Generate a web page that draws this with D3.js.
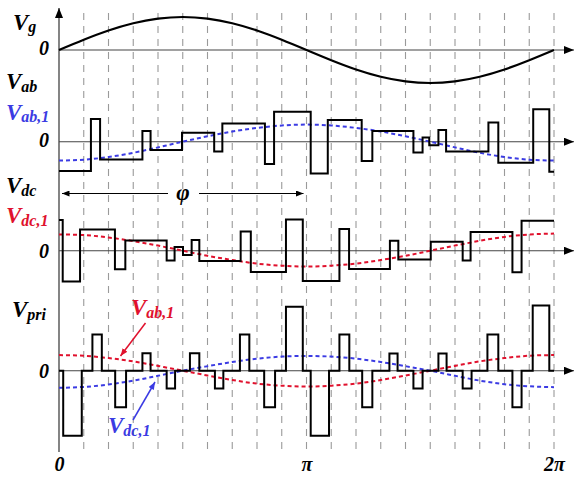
<!DOCTYPE html>
<html>
<head>
<meta charset="utf-8">
<script src="https://cdn.jsdelivr.net/npm/d3@7"></script>
<style>
  body { margin: 0; background: #fff; }
  text { font-family: "Liberation Serif", "Times New Roman", serif; font-weight: bold; font-style: italic; }
</style>
</head>
<body>
<div id="chart"></div>
<script>
// angle in units of pi
var gridSteps = d3.range(1, 21).map(k => k / 10);
var fundAngles = d3.range(0, 21).map(k => k / 10);

// grid voltage (read at each grid line)
var vgValues = [0, 0.31, 0.59, 0.81, 0.95, 1, 0.95, 0.81, 0.59, 0.31, 0,
  -0.31, -0.59, -0.81, -0.95, -1, -0.95, -0.81, -0.59, -0.31, 0];

// Vab step waveform: switching angles and levels between them
var vabEdges = [0, 0.129, 0.166, 0.337, 0.370, 0.497, 0.627, 0.660, 0.832, 0.869, 1.017, 1.086,
  1.223, 1.266, 1.432, 1.469, 1.496, 1.533, 1.564, 1.735, 1.775, 1.916, 1.981, 2];
var vabLevels = [-0.98, 0.76, -0.59, 0.36, -0.28, 0.30, -0.33, 0.61, -0.74, 1.00, -1.06, 0.72,
  -0.64, 0.36, -0.36, 0.14, -0.12, 0.39, -0.33, 0.64, -0.70, 1.08, -1.00];
var vab1Values = [-0.63, -0.60, -0.51, -0.37, -0.19, 0, 0.18, 0.34, 0.46, 0.54, 0.57,
  0.54, 0.46, 0.34, 0.18, 0, -0.19, -0.37, -0.51, -0.60, -0.63];

// Vdc step waveform
var vdcEdges = [0, 0.015, 0.085, 0.226, 0.268, 0.435, 0.467, 0.501, 0.536, 0.567, 0.734, 0.775,
  0.917, 0.985, 1.133, 1.172, 1.337, 1.371, 1.502, 1.631, 1.663, 1.832, 1.869, 2];
var vdcLevels = [1.02, -1.03, 0.71, -0.62, 0.34, -0.33, 0.12, -0.14, 0.36, -0.34, 0.64, -0.71,
  1.04, -1.01, 0.72, -0.61, 0.33, -0.29, 0.30, -0.33, 0.62, -0.72, 1.00];
var vdc1Values = [0.54, 0.52, 0.44, 0.32, 0.17, 0, -0.17, -0.31, -0.43, -0.50, -0.53,
  -0.50, -0.43, -0.31, -0.17, 0, 0.17, 0.33, 0.46, 0.54, 0.57];

// Vpri step waveform
var vpriEdges = [0, 0.017, 0.092, 0.135, 0.173, 0.227, 0.271, 0.337, 0.370, 0.435, 0.469, 0.529,
  0.567, 0.630, 0.664, 0.731, 0.769, 0.829, 0.873, 0.917, 0.985, 1.017, 1.091, 1.133, 1.173,
  1.225, 1.266, 1.335, 1.368, 1.432, 1.469, 1.533, 1.566, 1.631, 1.667, 1.731, 1.775, 1.832,
  1.869, 1.914, 1.981, 2];
var vpriLevels = [0, -2.17, 0, 1.21, 0, -1.22, 0, 0.58, 0, -0.59, 0, 0.58, 0, -0.59, 0, 1.21,
  0, -1.22, 0, 2.13, 0, -2.17, 0, 1.21, 0, -1.22, 0, 0.57, 0, -0.59, 0, 0.57, 0, -0.59, 0,
  1.21, 0, -1.22, 0, 2.17, 0];
var priAb1Values = [0.52, 0.50, 0.42, 0.31, 0.16, 0, -0.16, -0.31, -0.43, -0.50, -0.53,
  -0.50, -0.43, -0.31, -0.16, 0, 0.16, 0.31, 0.42, 0.50, 0.52];
var priDc1Values = [-0.57, -0.54, -0.46, -0.33, -0.17, 0, 0.15, 0.29, 0.40, 0.47, 0.49,
  0.47, 0.40, 0.29, 0.15, 0, -0.17, -0.33, -0.45, -0.52, -0.55];

var xTickLabels = ["0", "\u03c0", "2\u03c0"];

var svgWidth = 574;
var svgHeight = 477;
var red = "#e0112d";
var blue = "#3b3be3";

var svg = d3.select("#chart").append("svg")
  .attr("width", svgWidth)
  .attr("height", svgHeight);

var defs = svg.append("defs");
defs.append("marker")
  .attr("id", "head")
  .attr("viewBox", "0 0 10 8")
  .attr("refX", 10).attr("refY", 4)
  .attr("markerWidth", 10).attr("markerHeight", 8)
  .attr("markerUnits", "userSpaceOnUse")
  .attr("orient", "auto-start-reverse")
  .append("path").attr("d", "M0,0 L10,4 L0,8 Z").attr("fill", "#000");
[["redHead", red], ["blueHead", blue], ["smallHead", "#000"]].forEach(function(m) {
  defs.append("marker")
    .attr("id", m[0])
    .attr("viewBox", "0 0 10 8")
    .attr("refX", 10).attr("refY", 4)
    .attr("markerWidth", 8).attr("markerHeight", 6)
    .attr("markerUnits", "userSpaceOnUse")
    .attr("orient", "auto-start-reverse")
    .append("path").attr("d", "M0,0 L10,4 L0,8 Z").attr("fill", m[1]);
});

var x = d3.scaleLinear().domain([0, 2]).range([59, 554]);

// one y scale per panel, zero line of each panel
var yG = d3.scaleLinear().domain([-1, 1]).range([83, 17]);
var yAb = d3.scaleLinear().domain([-1, 1]).range([171.7, 111.7]);
var yDc = d3.scaleLinear().domain([-1, 1]).range([280.7, 220.7]);
var yPri = d3.scaleLinear().domain([-1, 1]).range([400.7, 340.7]);

// dashed grid
svg.append("g").selectAll("line")
  .data(gridSteps)
  .enter().append("line")
  .attr("x1", d => x(d)).attr("x2", d => x(d))
  .attr("y1", 13).attr("y2", 452)
  .attr("stroke", "#9a9a9a")
  .attr("stroke-width", 1.1)
  .attr("stroke-dasharray", "7,6");

// axes
svg.append("line")
  .attr("x1", x(0)).attr("x2", x(0))
  .attr("y1", 452).attr("y2", 8)
  .attr("stroke", "#333").attr("stroke-width", 1.2)
  .attr("marker-end", "url(#head)");

[yG, yAb, yDc, yPri].forEach(function(y) {
  svg.append("line")
    .attr("x1", x(0)).attr("x2", 574)
    .attr("y1", y(0)).attr("y2", y(0))
    .attr("stroke", "#444").attr("stroke-width", 1.1)
    .attr("marker-end", "url(#head)");
});

// bottom labels
var bottomAxis = d3.axisBottom(x)
  .tickValues([0, 1, 2])
  .tickSize(0)
  .tickFormat((d, i) => xTickLabels[i]);
var bAxis = svg.append("g")
  .attr("transform", "translate(0, 453)")
  .call(bottomAxis);
bAxis.select(".domain").remove();
bAxis.selectAll("text")
  .attr("font-size", 20)
  .attr("font-family", "Liberation Serif, serif")
  .attr("fill", "#000")
  .attr("y", 0)
  .attr("dy", "0.9em");

// waveforms
function stepLine(y) {
  return d3.line()
    .x(d => x(d[0]))
    .y(d => y(d[1]))
    .curve(d3.curveStepAfter);
}
function stepPoints(edges, levels) {
  var pts = levels.map((v, i) => [edges[i], v]);
  pts.push([edges[edges.length - 1], levels[levels.length - 1]]);
  return pts;
}
function smoothLine(y) {
  return d3.line()
    .x(d => x(d[0]))
    .y(d => y(d[1]))
    .curve(d3.curveNatural);
}

svg.append("path")
  .datum(fundAngles.map((a, i) => [a, vgValues[i]]))
  .attr("d", smoothLine(yG))
  .attr("fill", "none").attr("stroke", "#000").attr("stroke-width", 2.2);

function dashed(values, y, color) {
  svg.append("path")
    .datum(fundAngles.map((a, i) => [a, values[i]]))
    .attr("d", smoothLine(y))
    .attr("fill", "none").attr("stroke", color)
    .attr("stroke-width", 2)
    .attr("stroke-dasharray", "4,3");
}
function steps(edges, levels, y) {
  svg.append("path")
    .datum(stepPoints(edges, levels))
    .attr("d", stepLine(y))
    .attr("fill", "none").attr("stroke", "#000").attr("stroke-width", 2);
}

dashed(vab1Values, yAb, blue);
steps(vabEdges, vabLevels, yAb);
dashed(vdc1Values, yDc, red);
steps(vdcEdges, vdcLevels, yDc);
dashed(priAb1Values, yPri, red);
dashed(priDc1Values, yPri, blue);
steps(vpriEdges, vpriLevels, yPri);

// labels
function label(px, py, main, sub, color, subDy) {
  var t = svg.append("text")
    .attr("x", px).attr("y", py)
    .attr("fill", color)
    .attr("font-size", 23);
  t.append("tspan").text(main);
  if (sub) {
    t.append("tspan")
      .attr("font-size", 16)
      .attr("dy", subDy || 3)
      .text(sub);
  }
}
label(13, 30, "V", "g", "#000", 2);
label(6, 89, "V", "ab", "#000", 3);
label(6, 120, "V", "ab,1", blue, 2);
label(6, 193, "V", "dc", "#000", 3);
label(6, 223, "V", "dc,1", red, 3);
label(12, 317, "V", "pri", "#000", 0);
label(131, 315, "V", "ab,1", red, 3);
label(108, 433, "V", "dc,1", blue, 3);

function zero(py) {
  svg.append("text")
    .attr("x", 49).attr("y", py)
    .attr("text-anchor", "end")
    .attr("font-size", 20)
    .text("0");
}
zero(55);
zero(147);
zero(258);
zero(378);

// phase shift arrow
svg.append("line")
  .attr("x1", 168).attr("x2", 62)
  .attr("y1", 193.5).attr("y2", 193.5)
  .attr("stroke", "#000").attr("stroke-width", 1.2)
  .attr("marker-end", "url(#smallHead)");
svg.append("line")
  .attr("x1", 199).attr("x2", x(1) - 3)
  .attr("y1", 193.5).attr("y2", 193.5)
  .attr("stroke", "#000").attr("stroke-width", 1.2)
  .attr("marker-end", "url(#smallHead)");
svg.append("text")
  .attr("x", 183).attr("y", 200)
  .attr("text-anchor", "middle")
  .attr("font-size", 23)
  .text("\u03c6");

// pointer arrows in the last panel
svg.append("line")
  .attr("x1", 145.5).attr("y1", 323).attr("x2", 120.5).attr("y2", 356)
  .attr("stroke", red).attr("stroke-width", 1.5)
  .attr("marker-end", "url(#redHead)");
svg.append("line")
  .attr("x1", 133).attr("y1", 420).attr("x2", 155).attr("y2", 382)
  .attr("stroke", blue).attr("stroke-width", 1.5)
  .attr("marker-end", "url(#blueHead)");
</script>
</body>
</html>
